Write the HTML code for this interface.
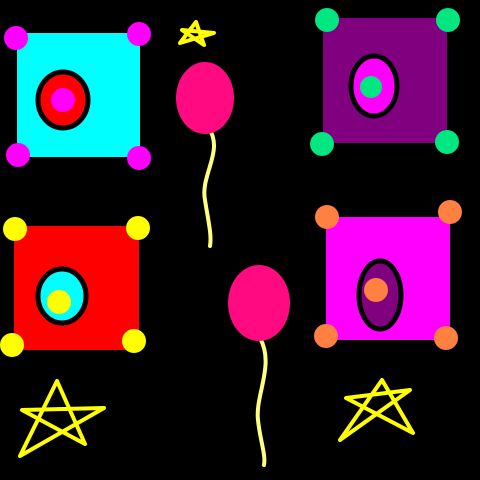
<!DOCTYPE html>
<html><head><meta charset="utf-8"><style>
html,body{margin:0;padding:0;background:#000;}
svg{display:block;}
</style></head><body>
<svg width="480" height="480" viewBox="0 0 480 480">
<rect x="0" y="0" width="480" height="480" fill="#000"/>

<g>
<rect x="17" y="33" width="123" height="124" fill="#00ffff"/>
<circle cx="16" cy="38" r="12" fill="#ff00ff"/>
<circle cx="139" cy="34" r="12" fill="#ff00ff"/>
<circle cx="18" cy="155" r="12" fill="#ff00ff"/>
<circle cx="139" cy="158" r="12" fill="#ff00ff"/>
<ellipse cx="63" cy="100" rx="25" ry="28" fill="#ff0000" stroke="#000" stroke-width="5"/>
<circle cx="63" cy="100" r="12" fill="#ff00ff"/>
</g>

<g>
<rect x="323" y="18" width="124" height="125" fill="#800080"/>
<circle cx="327" cy="20" r="12" fill="#00e680"/>
<circle cx="448" cy="20" r="12" fill="#00e680"/>
<circle cx="322" cy="144" r="12" fill="#00e680"/>
<circle cx="447" cy="142" r="12" fill="#00e680"/>
<ellipse cx="374" cy="86" rx="23" ry="30" fill="#ff00ff" stroke="#000" stroke-width="5"/>
<circle cx="371" cy="87" r="11" fill="#00e680"/>
</g>

<g>
<rect x="14" y="226" width="125" height="124" fill="#ff0000"/>
<circle cx="15" cy="229" r="12" fill="#ffff00"/>
<circle cx="138" cy="228" r="12" fill="#ffff00"/>
<circle cx="12" cy="345" r="12" fill="#ffff00"/>
<circle cx="134" cy="341" r="12" fill="#ffff00"/>
<ellipse cx="62" cy="296" rx="24" ry="27" fill="#00ffff" stroke="#000" stroke-width="5"/>
<circle cx="59" cy="302" r="12" fill="#ffff00"/>
</g>

<g>
<rect x="326" y="217" width="124" height="123" fill="#ff00ff"/>
<circle cx="327" cy="217" r="12" fill="#ff8040"/>
<circle cx="450" cy="212" r="12" fill="#ff8040"/>
<circle cx="326" cy="336" r="12" fill="#ff8040"/>
<circle cx="446" cy="338" r="12" fill="#ff8040"/>
<ellipse cx="380" cy="295" rx="21" ry="34" fill="#800080" stroke="#000" stroke-width="5"/>
<circle cx="376" cy="290" r="12" fill="#ff8040"/>
</g>

<g>
<path d="M208 127 C 225 150, 200 175, 205 200 C 208 220, 212 235, 210 246" fill="none" stroke="#ffff80" stroke-width="4" stroke-linecap="round"/>
<ellipse cx="205" cy="98" rx="29" ry="36" fill="#ff0a80"/>
</g>

<g>
<path d="M260 338 C 275 365, 255 395, 258 420 C 260 440, 266 455, 264 465" fill="none" stroke="#ffff80" stroke-width="4" stroke-linecap="round"/>
<ellipse cx="259" cy="303" rx="31" ry="38" fill="#ff0a80"/>
</g>

<path d="M180 43 L196 22 L204 45 L182 30 L214 33 Z" fill="none" stroke="#ffff00" stroke-width="4" stroke-linejoin="round"/>
<path d="M20 456 L57 381 L85 444 L22 410 L104 408 Z" fill="none" stroke="#ffff00" stroke-width="4" stroke-linejoin="round"/>
<path d="M340 440 L382 380 L413 433 L346 398 L410 390 Z" fill="none" stroke="#ffff00" stroke-width="4" stroke-linejoin="round"/>
</svg>
</body></html>
